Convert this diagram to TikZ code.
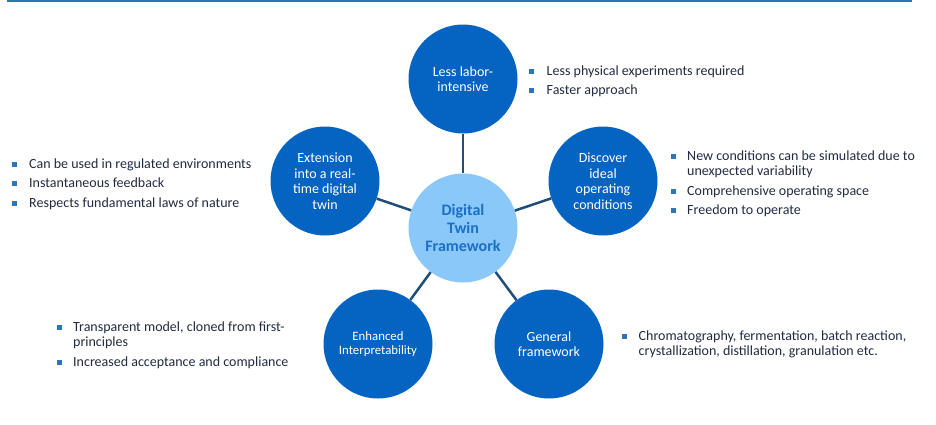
\documentclass[tikz,border=0pt]{standalone}
\usepackage{fontspec}
\setmainfont{Carlito}
\definecolor{circblue}{RGB}{5,99,193}
\definecolor{centfill}{RGB}{137,200,249}
\definecolor{centtext}{RGB}{28,111,196}
\definecolor{linkcol}{RGB}{31,78,121}
\definecolor{bulcol}{RGB}{46,117,182}
\definecolor{txtcol}{RGB}{33,42,66}
\definecolor{topcol}{RGB}{46,117,182}
\newcommand\bulsq{\textcolor{bulcol}{\rule[1.5pt]{4.8pt}{4.8pt}}}
\newcommand\myitem[2]{\noindent\hangindent=#1\hangafter=1\makebox[#1][l]{\bulsq}#2\par}
\newcommand\isep{\par\vskip4pt}
\begin{document}
\begin{tikzpicture}[x=1pt,y=-1pt,
  outer/.style={circle,fill=circblue,minimum size=109pt,inner sep=0pt,text=white,align=center,font=\fontsize{14}{15.5}\selectfont},
  centre/.style={circle,fill=centfill,minimum size=109pt,inner sep=0pt,text=centtext,align=center,font=\fontsize{16}{18}\selectfont\bfseries},
  link/.style={draw=linkcol,line width=2.5pt},
  listnode/.style={anchor=base west,inner sep=0pt,text=txtcol,font=\fontsize{14}{15.5}\selectfont}]
\useasboundingbox (0,0) rectangle (936,424);
\coordinate (tl) at (7,0.8);
\coordinate (tr) at (912,0.8);
\draw[topcol,line width=1.6pt] (tl) -- (tr);

\node[centre] (c) at (463,228) {Digital\\Twin\\Framework};
\node[outer] (top) at (463,79) {Less labor-\\intensive};
\node[outer] (ext) at (325,181) {Extension\\into a real-\\time digital\\twin};
\node[outer] (disc) at (603,181) {Discover\\ideal\\operating\\conditions};
\node[outer,font=\fontsize{12.8}{14}\selectfont] (enh) at (378,344) {Enhanced\\Interpretability};
\node[outer] (gen) at (549,344) {General\\framework};

\draw[link] (c) -- (top);
\draw[link] (c) -- (ext);
\draw[link] (c) -- (disc);
\draw[link] (c) -- (enh);
\draw[link] (c) -- (gen);

\node[listnode] (ltop) at (529,75) {\parbox[t]{320pt}{\raggedright
  \myitem{17.5pt}{Less physical experiments required}\isep
  \myitem{17.5pt}{Faster approach}}};
\node[listnode] (lext) at (12,168) {\parbox[t]{320pt}{\raggedright
  \myitem{17pt}{Can be used in regulated environments}\isep
  \myitem{17pt}{Instantaneous feedback}\isep
  \myitem{17pt}{Respects fundamental laws of nature}}};
\node[listnode] (ldisc) at (671,160) {\parbox[t]{265pt}{\raggedright
  \myitem{16pt}{New conditions can be simulated due to\newline unexpected variability}\isep
  \myitem{16pt}{Comprehensive operating space}\isep
  \myitem{16pt}{Freedom to operate}}};
\node[listnode] (lenh) at (57,331) {\parbox[t]{300pt}{\raggedright
  \myitem{16pt}{Transparent model, cloned from first-\newline principles}\isep
  \myitem{16pt}{Increased acceptance and compliance}}};
\node[listnode] (lgen) at (622,340) {\parbox[t]{310pt}{\raggedright
  \myitem{16.5pt}{Chromatography, fermentation, batch reaction,\newline crystallization, distillation, granulation etc.}}};
\end{tikzpicture}
\end{document}
